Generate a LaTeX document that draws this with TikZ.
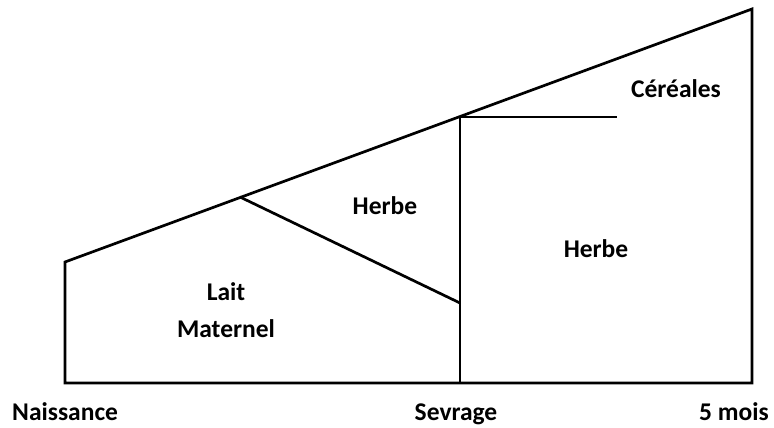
\documentclass[tikz,border=0pt]{standalone}
\usepackage{fontspec}
\setmainfont{Carlito}
\begin{document}
\begin{tikzpicture}[x=1pt,y=-1pt,
  lbl/.style={font=\bfseries\fontsize{25.5}{30}\selectfont, anchor=base, inner sep=0pt},
  edge/.style={line width=2.7pt, line join=miter}]
\useasboundingbox (0,0) rectangle (774,428);
\coordinate (bl) at (65,383);
\coordinate (tl) at (65,262);
\coordinate (tr) at (752,9);
\coordinate (br) at (752,383);
\coordinate (sb) at (460,383);
\coordinate (st) at (460,117);
\coordinate (ce) at (617,117);
\coordinate (dt) at (240,197);
\coordinate (db) at (460,303);
\draw[edge] (bl) -- (tl) -- (tr) -- (br) -- cycle;
\draw[edge] (sb) -- (st) -- (ce);
\draw[edge] (dt) -- (db);
\node[lbl] (lait) at (226,300) {Lait};
\node[lbl] (mat) at (226,337) {Maternel};
\node[lbl] (h1) at (385,214) {Herbe};
\node[lbl] (h2) at (596,257) {Herbe};
\node[lbl] (cer) at (676,97) {Céréales};
\node[lbl, anchor=base west] (nai) at (12,420) {Naissance};
\node[lbl] (sev) at (456,420) {Sevrage};
\node[lbl] (cinq) at (734,420) {5 mois};
\end{tikzpicture}
\end{document}
